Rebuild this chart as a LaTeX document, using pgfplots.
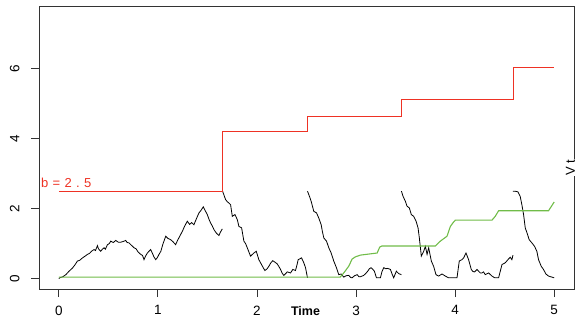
\documentclass[border=0pt]{standalone}
\usepackage{pgfplots}
\pgfplotsset{compat=1.18}
\usepackage{fontspec}
\setmainfont{Liberation Sans}
\definecolor{myred}{RGB}{238,50,36}
\definecolor{mygreen}{RGB}{112,188,72}
\begin{document}
\begin{tikzpicture}
\begin{axis}[
  scale only axis, width=535pt, height=283pt,
  xmin=-0.2, xmax=5.2, ymin=-0.3, ymax=7.8,
  xtick={0,1,2,3,4,5}, ytick={0,2,4,6},
  xtick pos=bottom, ytick pos=left,
  tick align=outside, major tick length=8pt,
  tick style={line width=0.8pt, black!80},
  axis line style={line width=0.9pt, black!80},
  /pgf/number format/assume math mode=true,
  tick label style={font=\fontsize{13.5}{15}\selectfont},
  xticklabel style={yshift=-7.5pt, inner sep=1pt},
  yticklabel style={rotate=90, anchor=south, yshift=8pt},
  clip=false,
]
% black process V_t, segments
\addplot[black, line width=0.8pt] coordinates {(0,0) (0.01,0.02) (0.04,0.05) (0.071,0.11) (0.10,0.2) (0.138,0.30) (0.16,0.38) (0.188,0.50) (0.21,0.52) (0.239,0.59) (0.26,0.63) (0.289,0.69) (0.31,0.72) (0.33,0.78) (0.356,0.83) (0.37,0.8) (0.39,0.94) (0.40,0.85) (0.423,0.78) (0.44,0.84) (0.457,0.88) (0.47,0.84) (0.491,0.97) (0.51,1.0) (0.524,1.07) (0.55,1.03) (0.575,1.09) (0.60,1.04) (0.625,1.04) (0.65,1.06) (0.675,1.09) (0.69,1.03) (0.709,1.02) (0.73,0.96) (0.759,0.88) (0.78,0.85) (0.80,0.76) (0.827,0.69) (0.845,0.66) (0.860,0.54) (0.875,0.64) (0.894,0.73) (0.91,0.78) (0.927,0.83) (0.945,0.72) (0.96,0.62) (0.978,0.54) (0.995,0.6) (1.011,0.69) (1.03,0.78) (1.05,0.98) (1.079,1.21) (1.10,1.15) (1.129,1.11) (1.15,1.06) (1.179,0.97) (1.20,1.1) (1.23,1.26) (1.25,1.37) (1.27,1.5) (1.297,1.64) (1.32,1.55) (1.34,1.6) (1.364,1.54) (1.39,1.72) (1.415,1.88) (1.435,1.95) (1.458,2.05) (1.48,1.93) (1.499,1.83) (1.515,1.7) (1.532,1.59) (1.55,1.5) (1.566,1.40) (1.59,1.3) (1.616,1.23) (1.63,1.32) (1.65,1.42)};
\addplot[black, line width=0.8pt] coordinates {(1.653,2.5) (1.683,2.26) (1.70,2.2) (1.717,2.16) (1.734,2.11) (1.751,1.78) (1.778,1.83) (1.801,1.69) (1.818,1.49) (1.845,1.45) (1.868,1.07) (1.885,1.0) (1.902,0.88) (1.92,0.75) (1.935,0.64) (1.969,0.73) (1.993,0.78) (2.019,0.54) (2.046,0.40) (2.065,0.3) (2.080,0.23) (2.10,0.27) (2.120,0.35) (2.14,0.45) (2.160,0.51) (2.18,0.47) (2.204,0.42) (2.22,0.35) (2.238,0.26) (2.255,0.15) (2.271,0.09) (2.29,0.14) (2.305,0.19) (2.339,0.16) (2.362,0.26) (2.389,0.23) (2.405,0.4) (2.416,0.54) (2.450,0.59) (2.473,0.45) (2.490,0.31) (2.51,0.02)};
\addplot[black, line width=0.8pt] coordinates {(2.51,2.5) (2.53,2.35) (2.547,2.21) (2.574,1.92) (2.601,1.88) (2.624,1.73) (2.648,1.54) (2.66,1.35) (2.675,1.16) (2.702,1.07) (2.725,0.88) (2.749,0.73) (2.775,0.50) (2.802,0.31) (2.826,0.11) (2.850,0.13) (2.876,0.04) (2.90,0.08) (2.927,0.09) (2.945,0.03) (2.960,0.02) (2.985,0.08) (3.011,0.11) (3.03,0.05) (3.044,0.05) (3.078,0.09) (3.10,0.15) (3.118,0.21) (3.135,0.28) (3.152,0.31) (3.17,0.26) (3.185,0.21) (3.206,0.02) (3.246,0.02) (3.262,0.2) (3.280,0.31) (3.30,0.28) (3.320,0.29) (3.347,0.26) (3.365,0.12) (3.380,0.02) (3.407,0.21) (3.431,0.14) (3.458,0.11)};
\addplot[black, line width=0.8pt] coordinates {(3.458,2.5) (3.475,2.35) (3.498,2.21) (3.515,2.07) (3.538,2.02) (3.558,1.83) (3.582,1.78) (3.606,1.64) (3.626,1.45) (3.639,1.16) (3.659,0.64) (3.683,0.78) (3.700,0.92) (3.717,0.69) (3.733,0.88) (3.760,0.50) (3.783,0.35) (3.807,0.11) (3.834,0.07) (3.868,0.13) (3.901,0.07) (3.935,0.02) (4.019,0.02) (4.042,0.50) (4.069,0.54) (4.086,0.59) (4.110,0.73) (4.136,0.54) (4.163,0.26) (4.18,0.2) (4.197,0.19) (4.221,0.26) (4.24,0.2) (4.254,0.16) (4.271,0.16) (4.287,0.19) (4.304,0.11) (4.338,0.16) (4.372,0.07) (4.40,0.02) (4.439,0.02) (4.473,0.40) (4.506,0.45) (4.533,0.54) (4.556,0.61) (4.573,0.54) (4.584,0.67)};
\addplot[black, line width=0.8pt] coordinates {(4.584,2.5) (4.605,2.5) (4.634,2.48) (4.657,2.35) (4.674,2.11) (4.691,1.83) (4.708,1.45) (4.725,1.31) (4.748,1.11) (4.775,1.02) (4.802,0.92) (4.825,0.78) (4.842,0.54) (4.869,0.35) (4.892,0.26) (4.916,0.13) (4.943,0.07) (4.977,0.04) (5.0,0.02)};
% red barrier b
\addplot[myred, line width=0.8pt] coordinates {(0,2.5) (1.653,2.5) (1.653,4.22) (2.51,4.22) (2.51,4.65) (3.458,4.65) (3.458,5.12) (4.584,5.12) (4.584,6.05) (5.0,6.05)};
% green
\addplot[mygreen, line width=1.1pt] coordinates {(0,0.04) (2.84,0.04) (2.876,0.16) (2.926,0.35) (2.961,0.56) (2.994,0.62) (3.044,0.67) (3.213,0.73) (3.239,0.9) (3.26,0.93) (3.80,0.93) (3.851,1.07) (3.918,1.21) (3.952,1.49) (3.98,1.6) (4.002,1.67) (4.372,1.67) (4.405,1.78) (4.439,1.94) (4.943,1.94) (5.0,2.19)};
\node[anchor=west, text=myred, inner sep=0pt, font=\fontsize{13}{15}\selectfont] at (axis cs:-0.18,2.74) {b\,\,=\,\,2\,\,.\,\,5};
\node[inner sep=0pt, font=\bfseries\fontsize{12.5}{15}\selectfont] at (axis cs:2.49,-0.94) {Time};
\node[rotate=90, fill=white, inner sep=0.5pt, font=\fontsize{13}{15}\selectfont] at (axis cs:5.165,3.17) {V t};
\end{axis}
\pgfresetboundingbox
\useasboundingbox (-39pt,-32pt) rectangle (539pt,289pt);
\end{tikzpicture}
\end{document}
